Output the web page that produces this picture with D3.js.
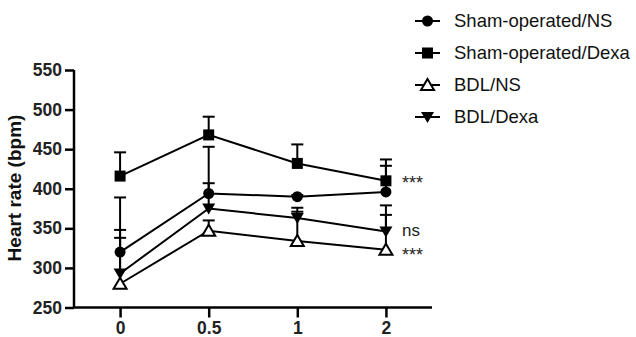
<!DOCTYPE html>
<html lang="en">
<head>
    <title>Heart rate chart</title>
    <style>
        body, html { margin: 0; height: 100%; overflow: hidden; background: #fff; }
        svg { display: block; }
        text { font-family: "Liberation Sans", Arial, sans-serif; }
    </style>
    <script src="https://d3js.org/d3.v7.min.js"></script>
</head>
<body>
    <svg></svg>

    <script>
        // data
        const timePoints = ["0", "0.5", "1", "2"];
        const yTicks = [250, 300, 350, 400, 450, 500, 550];
        const shamNS = [320, 394, 390, 396];
        const shamNSErr = [389, 453, 392, 437];
        const shamDexa = [416, 468, 432, 410];
        const shamDexaErr = [446, 491, 456, 429];
        const bdlNS = [280, 347, 334, 323];
        const bdlNSErr = [348, 360, 371, 367];
        const bdlDexa = [293, 375, 363, 346];
        const bdlDexaErr = [338, 407, 376, 379];
        const seriesNames = ["Sham-operated/NS", "Sham-operated/Dexa", "BDL/NS", "BDL/Dexa"];
        const markers = ["circle", "square", "triUp", "triDown"];
        const annotations = [
            { label: "***", value: 412 },
            { label: "ns", value: 348 },
            { label: "***", value: 322 }
        ];

        const series = [
            { name: seriesNames[0], values: shamNS, err: shamNSErr, marker: markers[0] },
            { name: seriesNames[1], values: shamDexa, err: shamDexaErr, marker: markers[1] },
            { name: seriesNames[2], values: bdlNS, err: bdlNSErr, marker: markers[2] },
            { name: seriesNames[3], values: bdlDexa, err: bdlDexaErr, marker: markers[3] }
        ];

        const width = 636, height = 337;
        const svg = d3.select("svg").attr("width", width).attr("height", height);

        const x = d3.scalePoint().domain(timePoints).range([74, 432]).padding(0.52);
        const y = d3.scaleLinear().domain([250, 550]).range([307.5, 70]);

        // axes
        const yAxis = svg.append("g")
            .attr("transform", "translate(74,0)")
            .call(d3.axisLeft(y).tickValues(yTicks).tickSize(9).tickPadding(3));
        const xAxis = svg.append("g")
            .attr("transform", "translate(0,307.5)")
            .call(d3.axisBottom(x).tickSize(10).tickPadding(4));

        [yAxis, xAxis].forEach(g => {
            g.select(".domain").attr("stroke", "#000").attr("stroke-width", 2.5);
            g.selectAll(".tick line").attr("stroke", "#000").attr("stroke-width", 2.5);
            g.selectAll(".tick text")
                .attr("fill", "#222")
                .attr("font-size", 17.5)
                .attr("font-weight", "bold");
        });
        xAxis.select(".domain").attr("d", "M74,0H432");
        yAxis.select(".domain").attr("d", "M0,70V307.5");

        svg.append("text")
            .attr("transform", "translate(21,188) rotate(-90)")
            .attr("text-anchor", "middle")
            .attr("font-size", 19)
            .attr("font-weight", "bold")
            .attr("fill", "#111")
            .text("Heart rate (bpm)");

        function drawMarker(g, type, cx, cy) {
            if (type === "circle") {
                g.append("circle").attr("cx", cx).attr("cy", cy).attr("r", 5.5).attr("fill", "#000");
            } else if (type === "square") {
                g.append("rect").attr("x", cx - 5.5).attr("y", cy - 5.5)
                    .attr("width", 11).attr("height", 11).attr("fill", "#000");
            } else if (type === "triUp") {
                g.append("path")
                    .attr("d", `M${cx},${cy - 6}L${cx + 6.5},${cy + 5}L${cx - 6.5},${cy + 5}Z`)
                    .attr("fill", "#fff").attr("stroke", "#000").attr("stroke-width", 2);
            } else {
                g.append("path")
                    .attr("d", `M${cx},${cy + 6}L${cx + 6.5},${cy - 5}L${cx - 6.5},${cy - 5}Z`)
                    .attr("fill", "#000");
            }
        }

        const line = d3.line().x((d, i) => x(timePoints[i])).y(d => y(d));

        // error bars (upper only)
        series.forEach(s => {
            const g = svg.append("g");
            s.values.forEach((v, i) => {
                const cx = x(timePoints[i]);
                g.append("line").attr("x1", cx).attr("x2", cx)
                    .attr("y1", y(v)).attr("y2", y(s.err[i]))
                    .attr("stroke", "#000").attr("stroke-width", 2);
                g.append("line").attr("x1", cx - 6).attr("x2", cx + 6)
                    .attr("y1", y(s.err[i])).attr("y2", y(s.err[i]))
                    .attr("stroke", "#000").attr("stroke-width", 2);
            });
        });

        series.forEach(s => {
            svg.append("path").datum(s.values)
                .attr("d", line)
                .attr("fill", "none")
                .attr("stroke", "#000")
                .attr("stroke-width", 2);
        });

        series.forEach(s => {
            const g = svg.append("g");
            s.values.forEach((v, i) => drawMarker(g, s.marker, x(timePoints[i]), y(v)));
        });

        // significance labels
        svg.selectAll(".sig").data(annotations).enter().append("text")
            .attr("class", "sig")
            .attr("x", 402)
            .attr("y", d => y(d.value))
            .attr("dy", d => d.label === "ns" ? 6 : 10)
            .attr("font-size", d => d.label === "ns" ? 17 : 18)
            .attr("fill", "#222")
            .text(d => d.label);

        // legend
        const legend = svg.append("g");
        series.forEach((s, i) => {
            const ly = 21 + i * 32;
            legend.append("line").attr("x1", 415).attr("x2", 440)
                .attr("y1", ly).attr("y2", ly)
                .attr("stroke", "#000").attr("stroke-width", 2);
            drawMarker(legend, s.marker, 427.5, ly);
            legend.append("text")
                .attr("x", 454)
                .attr("y", ly)
                .attr("dy", "0.35em")
                .attr("font-size", 18.5)
                .attr("fill", "#111")
                .text(s.name);
        });
    </script>
</body>
</html>
